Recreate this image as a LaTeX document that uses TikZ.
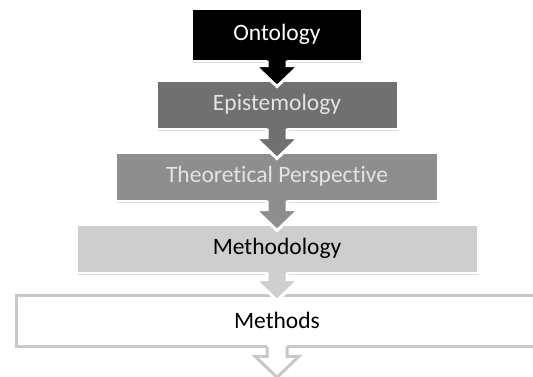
\documentclass[tikz,border=0pt]{standalone}
\usepackage{fontspec}
\setmainfont{Carlito}[Ligatures=NoCommon]
\usetikzlibrary{calc,shadows}
\definecolor{lv_dark}{RGB}{112, 112, 112}
\definecolor{lv_mid}{RGB}{142, 142, 142}
\definecolor{lv_light}{RGB}{206, 206, 206}
\definecolor{lv_edge}{RGB}{200, 200, 200}
\definecolor{lv_text}{RGB}{228, 228, 228}
\tikzstyle{lv}=[rectangle,draw=white,line width=2pt,minimum height=48pt,
  font=\fontsize{23.5}{28}\selectfont,
  drop shadow={shadow xshift=1pt,shadow yshift=-2pt,opacity=0.3,fill=black!45}]
\tikzstyle{kn}=[lv,fill=black,text=white,minimum width=170pt,minimum height=52pt]
\tikzstyle{dn}=[lv,fill=lv_dark,text=lv_text,minimum width=241pt]
\tikzstyle{mn}=[lv,fill=lv_mid,text=lv_text,minimum width=322pt]
\tikzstyle{ln}=[lv,fill=lv_light,text=black,minimum width=401pt]
\tikzstyle{wn}=[lv,draw=lv_edge,fill=white,line width=3pt,text=black,
  minimum width=522pt,minimum height=51pt]
\tikzstyle{none}=[inner sep=0pt]
% block arrow from the box #1 down into the box #2
\newcommand{\blockarr}[4]{%
  \fill [#3] ($(#1.south)+(-10,-6)$) -- ($(#2.north)+(-10,-14)$)
    -- ($(#2.north)+(-22,-14)$) -- ($(#2.north)+(0,7)$)
    -- ($(#2.north)+(22,-14)$) -- ($(#2.north)+(10,-14)$)
    -- ($(#1.south)+(10,-6)$) -- cycle;
  \draw [#4,line width=3pt,line join=miter] ($(#1.south)+(-10,-1)$)
    -- ($(#2.north)+(-10,-14)$) -- ($(#2.north)+(-22,-14)$)
    -- ($(#2.north)+(0,7)$) -- ($(#2.north)+(22,-14)$)
    -- ($(#2.north)+(10,-14)$) -- ($(#1.south)+(10,-1)$);}

\begin{document}
\begin{tikzpicture}[x=1pt,y=-1pt]
            \useasboundingbox (0, 0) rectangle (533, 376);
            \node [style=kn] (0) at (277, 34.5) {Ontology};
            \node [style=dn] (1) at (277, 104.5) {Epistemology};
            \node [style=mn] (2) at (277, 176.5) {Theoretical Perspective};
            \node [style=ln] (3) at (277, 248.5) {Methodology};
            \node [style=wn] (4) at (277, 320.5) {Methods};
            \node [style=none] (5) at (277, 371) {};
            \blockarr{0}{1}{black}{white}
            \blockarr{1}{2}{lv_dark}{white}
            \blockarr{2}{3}{lv_mid}{white}
            \blockarr{3}{4}{lv_light}{white}
            \blockarr{4}{5}{white}{lv_edge}
    \end{tikzpicture}
\end{document}
